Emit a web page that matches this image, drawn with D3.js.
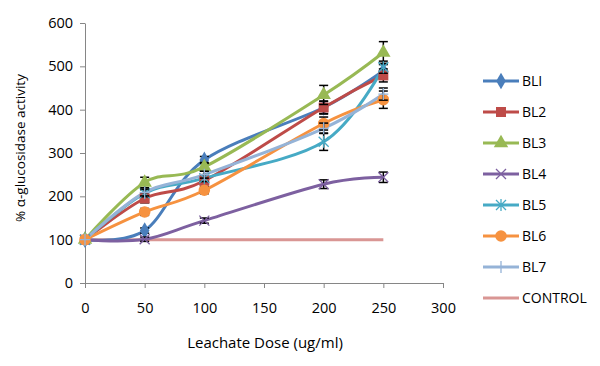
<!DOCTYPE html>
<html>
<head>
<meta charset="utf-8">
<script src="https://cdn.jsdelivr.net/npm/d3@7"></script>
<style>
    body { margin: 0; background: #fff; }
    text { font-family: "Open Sans", "Noto Sans", sans-serif; fill: #000; }
</style>
</head>
<body>
<div id="chart"></div>
<script>
// doses on the x axis
const doses = [0, 50, 100, 200, 250];

// % alpha-glucosidase activity per leachate
const bl1 = [100, 121, 284, 405, 490];
const bl2 = [100, 195, 236, 405, 479];
const bl3 = [100, 232, 268, 434, 532];
const bl4 = [100, 101, 144, 228, 244];
const bl5 = [100, 207, 242, 326, 498];
const bl6 = [100, 164, 214, 368, 423];
const bl7 = [100, 209, 250, 357, 436];
const control = [100, 100, 100, 100, 100];

// error bar half-heights
const bl1Err = [0, 6, 8, 14, 14];
const bl2Err = [0, 10, 9, 15, 15];
const bl3Err = [0, 12, 10, 22, 25];
const bl4Err = [0, 5, 6, 10, 12];
const bl5Err = [0, 8, 8, 20, 14];
const bl6Err = [0, 8, 8, 15, 20];
const bl7Err = [0, 8, 8, 12, 14];

const seriesNames = ["BLI", "BL2", "BL3", "BL4", "BL5", "BL6", "BL7", "CONTROL"];
const xTicks = [0, 50, 100, 150, 200, 250, 300];
const yTicks = [0, 100, 200, 300, 400, 500, 600];

const series = [
    { name: seriesNames[0], values: bl1, err: bl1Err, color: "#4A7EBB", marker: "diamond" },
    { name: seriesNames[1], values: bl2, err: bl2Err, color: "#BE4B48", marker: "square" },
    { name: seriesNames[2], values: bl3, err: bl3Err, color: "#98B954", marker: "triangle" },
    { name: seriesNames[3], values: bl4, err: bl4Err, color: "#7D60A0", marker: "x" },
    { name: seriesNames[4], values: bl5, err: bl5Err, color: "#46AAC5", marker: "asterisk" },
    { name: seriesNames[5], values: bl6, err: bl6Err, color: "#F69240", marker: "circle" },
    { name: seriesNames[6], values: bl7, err: bl7Err, color: "#95B3D7", marker: "plus" },
    { name: seriesNames[7], values: control, err: null, color: "#D99694", marker: null }
];

const MARGIN = { LEFT: 85, TOP: 23 };
const WIDTH = 358;
const HEIGHT = 260;

const svg = d3.select("#chart").append("svg")
    .attr("width", 600)
    .attr("height", 366);

const g = svg.append("g")
    .attr("transform", `translate(${MARGIN.LEFT}, ${MARGIN.TOP})`);

const x = d3.scaleLinear().domain([0, 300]).range([0, WIDTH]);
const y = d3.scaleLinear().domain([0, 600]).range([HEIGHT, 0]);

// Axes
const xAxis = g.append("g")
    .attr("transform", `translate(0, ${HEIGHT})`)
    .call(d3.axisBottom(x).tickValues(xTicks).tickSize(5).tickSizeOuter(0).tickPadding(15));
const yAxis = g.append("g")
    .call(d3.axisLeft(y).tickValues(yTicks).tickSize(5).tickSizeOuter(0).tickPadding(7));

[xAxis, yAxis].forEach(a => {
    a.select(".domain").attr("stroke", "#868686");
    a.selectAll(".tick line").attr("stroke", "#868686");
    a.selectAll(".tick text").style("font-size", "14.5px").attr("fill", "#000");
});

// Axis titles
svg.append("text")
    .attr("text-anchor", "middle")
    .attr("x", 265)
    .attr("y", 348)
    .style("font-size", "15px")
    .text("Leachate Dose (ug/ml)");

svg.append("text")
    .attr("text-anchor", "middle")
    .attr("transform", "rotate(-90)")
    .attr("x", -148)
    .attr("y", 25)
    .style("font-size", "13.5px")
    .text("% α-glucosidase activity");

const line = d3.line()
    .x((d, i) => x(doses[i]))
    .y(d => y(d))
    .curve(d3.curveCardinal.tension(0));

function drawMarker(sel, s, cx, cy) {
    const m = sel.append("g").attr("transform", `translate(${cx}, ${cy})`);
    if (s.marker === "diamond") {
        m.append("path").attr("d", d3.symbol(d3.symbolDiamond, 80)()).attr("fill", s.color);
    } else if (s.marker === "square") {
        m.append("path").attr("d", d3.symbol(d3.symbolSquare, 100)()).attr("fill", s.color);
    } else if (s.marker === "triangle") {
        m.append("path").attr("d", d3.symbol(d3.symbolTriangle, 90)()).attr("fill", s.color);
    } else if (s.marker === "circle") {
        m.append("path").attr("d", d3.symbol(d3.symbolCircle, 105)()).attr("fill", s.color);
    } else if (s.marker === "x") {
        m.append("path").attr("d", "M-5,-5L5,5M-5,5L5,-5").attr("stroke", s.color).attr("stroke-width", 1.3);
    } else if (s.marker === "asterisk") {
        m.append("path").attr("d", "M-5,-5L5,5M-5,5L5,-5M0,-6L0,6").attr("stroke", s.color).attr("stroke-width", 1.3);
    } else if (s.marker === "plus") {
        m.append("path").attr("d", "M0,-6L0,6M-5,0L5,0").attr("stroke", s.color).attr("stroke-width", 1.3);
    }
}

// Draw series (control first so it sits behind)
const order = [7, 0, 1, 2, 3, 4, 5, 6];
order.forEach(k => {
    const s = series[k];
    g.append("path")
        .datum(s.values)
        .attr("fill", "none")
        .attr("stroke", s.color)
        .attr("stroke-width", 3)
        .attr("d", line);
});

order.forEach(k => {
    const s = series[k];
    if (!s.err) return;
    s.values.forEach((v, i) => {
        const cx = x(doses[i]);
        const e = s.err[i];
        if (e > 0) {
            const eg = g.append("g").attr("stroke", "#000").attr("stroke-width", 1.5);
            eg.append("line").attr("x1", cx).attr("x2", cx).attr("y1", y(v - e)).attr("y2", y(v + e));
            eg.append("line").attr("x1", cx - 4.5).attr("x2", cx + 4.5).attr("y1", y(v - e)).attr("y2", y(v - e));
            eg.append("line").attr("x1", cx - 4.5).attr("x2", cx + 4.5).attr("y1", y(v + e)).attr("y2", y(v + e));
        }
        drawMarker(g, s, cx, y(v));
    });
});

// Legend
const legend = svg.append("g").attr("transform", "translate(483, 81)");
series.forEach((s, i) => {
    const item = legend.append("g").attr("transform", `translate(0, ${i * 31})`);
    item.append("line")
        .attr("x1", 0).attr("x2", 36)
        .attr("stroke", s.color)
        .attr("stroke-width", 3);
    drawMarker(item, s, 18, 0);
    item.append("text")
        .attr("x", 39)
        .attr("dy", "0.35em")
        .style("font-size", "14px")
        .text(s.name);
});
</script>
</body>
</html>
